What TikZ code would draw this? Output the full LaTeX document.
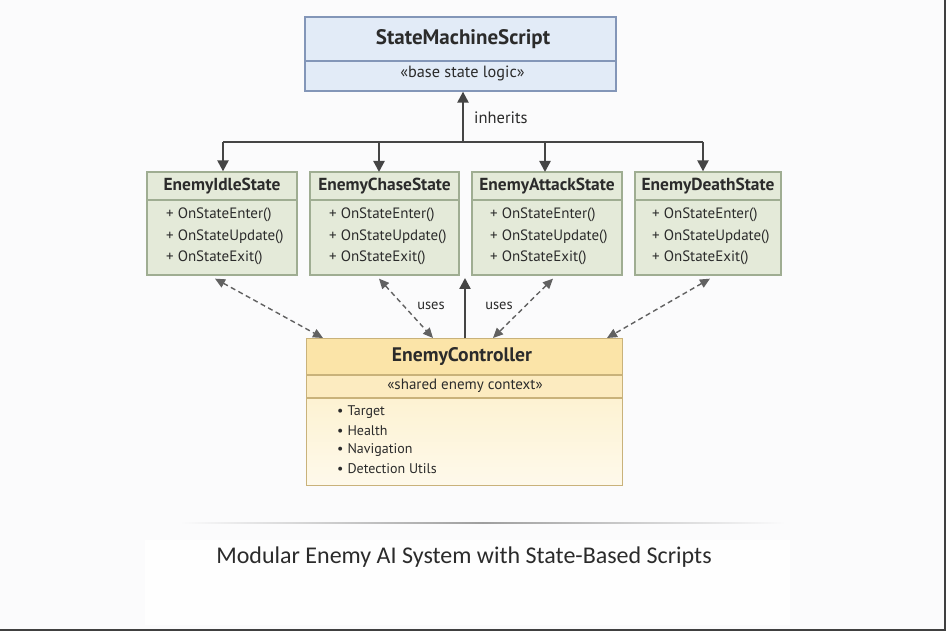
\documentclass[tikz,border=0pt]{standalone}
\usepackage{fontspec}
\setmainfont{PT Sans}
\newfontfamily\capfont{Carlito}
\usetikzlibrary{arrows.meta,calc}
\definecolor{ink}{HTML}{2B2B2B}
\definecolor{lineC}{HTML}{454545}
\definecolor{blueF}{HTML}{E2EBF7}
\definecolor{blueD}{HTML}{8396B8}
\definecolor{greenF}{HTML}{E4EAD9}
\definecolor{greenD}{HTML}{9FAD92}
\definecolor{yelH}{HTML}{FBE4A8}
\definecolor{yelS}{HTML}{FCEBC0}
\definecolor{yelB}{HTML}{FDF2D2}
\definecolor{yelB2}{HTML}{FEF9EB}
\definecolor{yelD}{HTML}{C9B27A}
\definecolor{bgC}{HTML}{FBFBFC}
\definecolor{bgW}{HTML}{FEFEFE}
\tikzset{
  x=1pt, y=-1pt,
  box/.style={rectangle, inner sep=0pt, line width=1.3pt},
  bluebox/.style={box, draw=blueD, fill=blueF},
  greenbox/.style={box, draw=greenD, fill=greenF, minimum height=103pt},
  ttl/.style={font=\bfseries\fontsize{21}{24}\selectfont, text=ink, inner sep=0pt},
  cttl/.style={font=\bfseries\fontsize{19.6}{24}\selectfont, text=ink, inner sep=0pt},
  sttl/.style={font=\bfseries\fontsize{17.4}{20}\selectfont, text=ink, inner sep=0pt},
  sub/.style={font=\fontsize{16.3}{19}\selectfont, text=ink, inner sep=0pt},
  meth/.style={font=\fontsize{15}{18}\selectfont, text=ink, inner sep=0pt, anchor=west},
  lbl/.style={font=\fontsize{16.5}{19}\selectfont, text=ink, inner sep=0pt},
  solidarr/.style={draw=lineC, line width=2.3pt, -{Triangle[width=11pt,length=11pt]}},
  dasharr/.style={draw=lineC!85, line width=1.4pt, dash pattern=on 5pt off 3.5pt,
     {Triangle[width=9pt,length=10pt]}-{Triangle[width=9pt,length=10pt]}},
}
\begin{document}
\begin{tikzpicture}
\useasboundingbox (0,0) rectangle (946,631);
\fill[bgC] (0,0) rectangle (946,631);
\fill[bgW] (145,540) rectangle (790,625);
\draw[ink!90, line width=2pt] (0,630) -- (945,630) -- (945,0);

% top box
\node[bluebox, minimum width=311pt, minimum height=74pt] (sms) at (460.5,54) {};
\draw[blueD, line width=1.1pt] (sms.west |- 0,61) -- (sms.east |- 0,61);
\node[ttl] (smsT) at (463,39) {StateMachineScript};
\node[sub] (smsS) at (462.5,73) {«base state logic»};

% state boxes
\node[greenbox, minimum width=150pt] (idle) at (222,223.5) {};
\node[greenbox, minimum width=149pt] (chase) at (384.5,223.5) {};
\node[greenbox, minimum width=150pt] (attack) at (547,223.5) {};
\node[greenbox, minimum width=146pt] (death) at (708,223.5) {};
\foreach \b in {idle,chase,attack,death}{
  \draw[greenD, line width=1.1pt] (\b.west |- 0,200) -- (\b.east |- 0,200);
}
\node[sttl] (idleT) at (222,186) {EnemyIdleState};
\node[sttl] (chaseT) at (384.5,186) {EnemyChaseState};
\node[sttl] (attackT) at (547,186) {EnemyAttackState};
\node[sttl] (deathT) at (708,186) {EnemyDeathState};
\foreach \n/\x in {i/166,c/329,a/490,d/652}{
  \node[meth] (\n m1) at (\x,215) {+ OnStateEnter()};
  \node[meth] (\n m2) at (\x,237) {+ OnStateUpdate()};
  \node[meth] (\n m3) at (\x,258) {+ OnStateExit()};
}

% bus and inheritance
\coordinate (busL) at (223,142);
\coordinate (busR) at (703,142);
\coordinate (busM) at (463,142);
\draw[lineC, line width=2.3pt] (busL) -- (busR);
\draw[solidarr] (busM) -- (busM |- sms.south);
\node[lbl, anchor=west] (inh) at (474,118) {inherits};
\draw[solidarr] (busL) -- (busL |- idle.north);
\draw[solidarr] (379,142) -- (379,172) coordinate (chaseIn);
\draw[solidarr] (545,142) -- (545,172) coordinate (attackIn);
\draw[solidarr] (busR) -- (busR |- death.north);

% controller
\node[box, minimum width=315pt, minimum height=146pt] (ctrl) at (464.5,412) {};
\fill[yelH] (ctrl.north west) rectangle (ctrl.east |- 0,375);
\fill[yelS] (ctrl.west |- 0,375) rectangle (ctrl.east |- 0,398);
\shade[top color=yelB, bottom color=yelB2] (ctrl.west |- 0,398) rectangle (ctrl.south east);
\draw[yelD, line width=1.3pt] (ctrl.north west) rectangle (ctrl.south east);
\draw[yelD, line width=1.1pt] (ctrl.west |- 0,375) -- (ctrl.east |- 0,375);
\draw[yelD, line width=1.1pt] (ctrl.west |- 0,398) -- (ctrl.east |- 0,398);
\node[cttl] (ctrlT) at (462,357) {EnemyController};
\node[sub, font=\fontsize{15}{19}\selectfont] (ctrlS) at (465,386) {«shared enemy context»};
\foreach \t/\y in {Target/412,Health/431,Navigation/450,Detection Utils/469}{
  \node[meth, font=\fontsize{14}{17}\selectfont] at (337,\y) {\textbullet\hspace{4pt}\t};
}

% uses arrows
\coordinate (upTip) at (465,278);
\draw[solidarr] (ctrl.north -| upTip) -- (upTip);
\draw[dasharr] ($(idle.south)+(-7,3)$) -- (323,338);
\draw[dasharr] ($(chase.south)+(-5.5,3)$) -- (433,338);
\draw[dasharr] ($(attack.south)+(6,3)$) -- (493,338);
\draw[dasharr] ($(death.south)+(2,3)$) -- (607,338);
\node[lbl, font=\fontsize{14.5}{18}\selectfont] (uses1) at (431,306) {uses};
\node[lbl, font=\fontsize{14.5}{18}\selectfont] (uses2) at (499,306) {uses};

% footer
\shade[left color=bgC, right color=bgC, middle color=black!38] (180,522.8) rectangle (785,523.9);
\node[font=\capfont\fontsize{24}{28}\selectfont, text=ink, inner sep=0pt] (cap) at (464,557) {Modular Enemy AI System with State-Based Scripts};
\end{tikzpicture}
\end{document}
